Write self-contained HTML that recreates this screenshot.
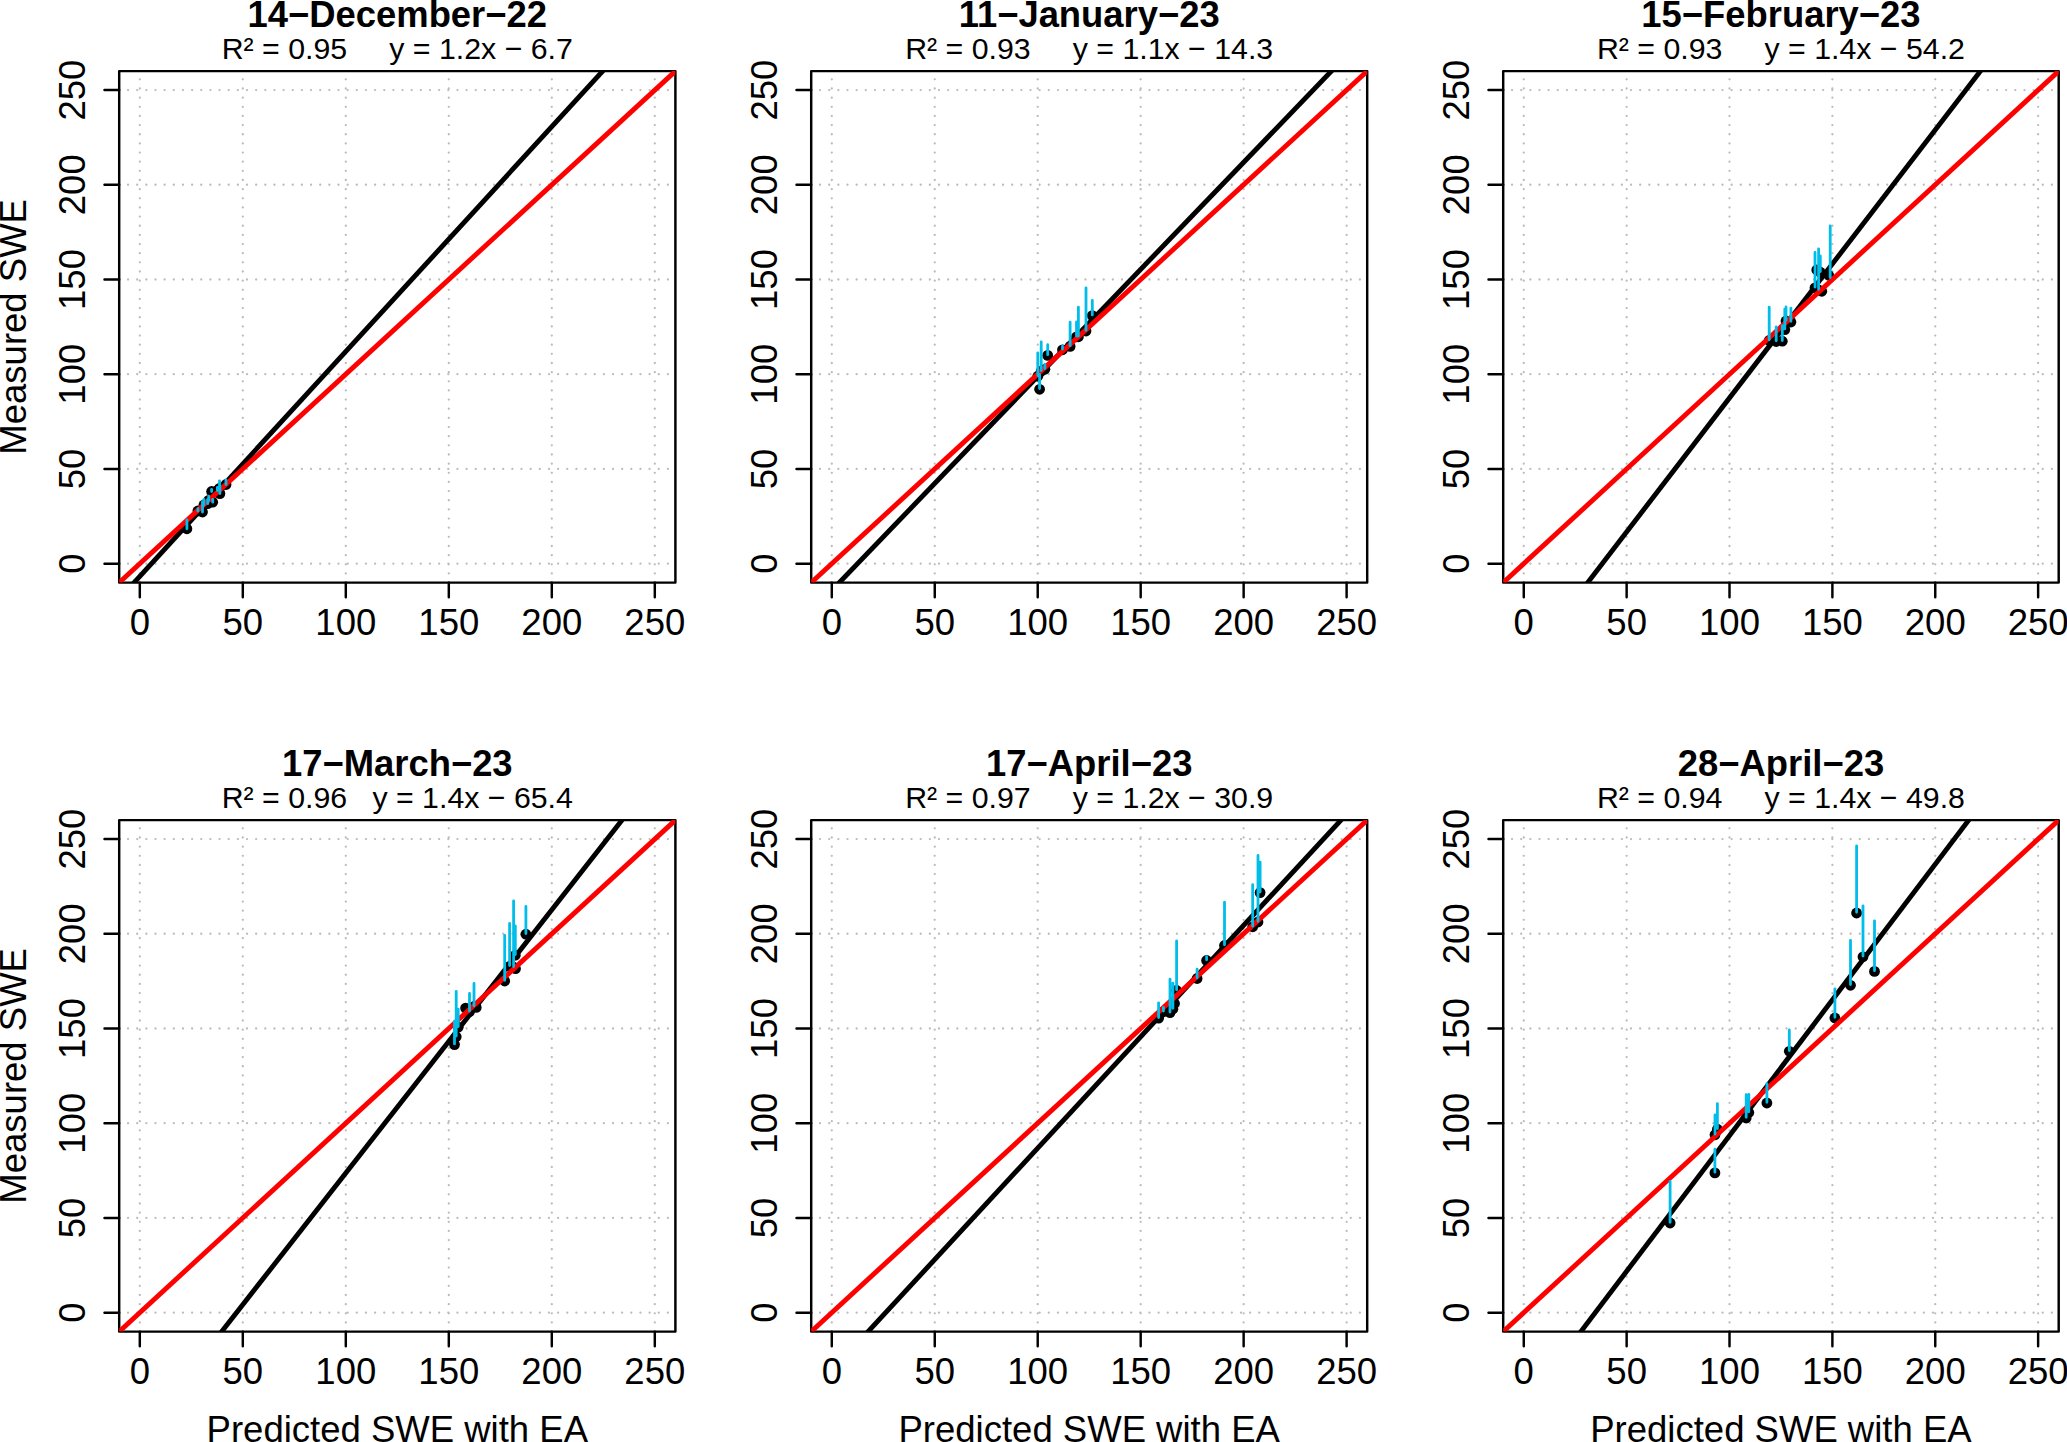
<!DOCTYPE html>
<html lang="en"><head><meta charset="utf-8"><title>Measured SWE vs Predicted SWE with EA</title>
<style>html,body{margin:0;padding:0;background:#fff}body{width:2067px;height:1442px;overflow:hidden}svg{display:block}text{font-family:"Liberation Sans",Arial,Helvetica,sans-serif;fill:#000}.ax{font-size:36.5px}.sub{font-size:30.3px}.main{font-size:36.4px;font-weight:bold}.k{stroke:#000;stroke-width:2.45;stroke-linecap:round;stroke-linejoin:round;fill:none}.g{stroke:#bcbcbc;stroke-width:2.3;stroke-linecap:round;stroke-dasharray:0 9.15;fill:none}.c{stroke:#00bdea;stroke-width:2.8;stroke-linecap:round;fill:none}</style></head><body>
<svg width="2067" height="1442" viewBox="0 0 2067 1442">
<rect width="2067" height="1442" fill="#fff"/>
<defs>
<clipPath id="cp0"><rect x="119.2" y="71.1" width="556.2" height="511.5"/></clipPath>
<clipPath id="cp1"><rect x="811.2" y="71.1" width="556" height="511.5"/></clipPath>
<clipPath id="cp2"><rect x="1503.2" y="71.1" width="555.5" height="511.5"/></clipPath>
<clipPath id="cp3"><rect x="119.2" y="820.1" width="556.2" height="511.5"/></clipPath>
<clipPath id="cp4"><rect x="811.2" y="820.1" width="556" height="511.5"/></clipPath>
<clipPath id="cp5"><rect x="1503.2" y="820.1" width="555.5" height="511.5"/></clipPath>
</defs>
<g id="panel1">
<text class="ax" text-anchor="middle" x="139.8" y="635">0</text>
<text class="ax" text-anchor="middle" x="242.8" y="635">50</text>
<text class="ax" text-anchor="middle" x="345.8" y="635">100</text>
<text class="ax" text-anchor="middle" x="448.8" y="635">150</text>
<text class="ax" text-anchor="middle" x="551.8" y="635">200</text>
<text class="ax" text-anchor="middle" x="654.8" y="635">250</text>
<text class="ax" text-anchor="middle" transform="translate(84.7 563.66) rotate(-90)">0</text>
<text class="ax" text-anchor="middle" transform="translate(84.7 468.93) rotate(-90)">50</text>
<text class="ax" text-anchor="middle" transform="translate(84.7 374.21) rotate(-90)">100</text>
<text class="ax" text-anchor="middle" transform="translate(84.7 279.49) rotate(-90)">150</text>
<text class="ax" text-anchor="middle" transform="translate(84.7 184.77) rotate(-90)">200</text>
<text class="ax" text-anchor="middle" transform="translate(84.7 90.04) rotate(-90)">250</text>
<path class="g" clip-path="url(#cp0)" d="M139.8 582.6V71.1M242.8 582.6V71.1M345.8 582.6V71.1M448.8 582.6V71.1M551.8 582.6V71.1M654.8 582.6V71.1M118.9 563.66H675.4M118.9 468.93H675.4M118.9 374.21H675.4M118.9 279.49H675.4M118.9 184.77H675.4M118.9 90.04H675.4"/>
<g fill="#000"><circle cx="186.9" cy="528.8" r="5.4"/><circle cx="197.9" cy="511" r="5.4"/><circle cx="202.5" cy="512" r="5.4"/><circle cx="203.9" cy="505" r="5.4"/><circle cx="207.7" cy="503.7" r="5.4"/><circle cx="208.7" cy="500.4" r="5.4"/><circle cx="212.7" cy="502.2" r="5.4"/><circle cx="211.6" cy="491.5" r="5.4"/><circle cx="217.4" cy="490.5" r="5.4"/><circle cx="219.9" cy="493.6" r="5.4"/><circle cx="219.5" cy="488.3" r="5.4"/><circle cx="226" cy="484.5" r="5.4"/></g>
<rect class="k" x="119.2" y="71.1" width="556.2" height="511.5"/>
<path class="k" d="M139.8 582.6v14.7M119.2 563.66h-14.7M242.8 582.6v14.7M119.2 468.93h-14.7M345.8 582.6v14.7M119.2 374.21h-14.7M448.8 582.6v14.7M119.2 279.49h-14.7M551.8 582.6v14.7M119.2 184.77h-14.7M654.8 582.6v14.7M119.2 90.04h-14.7"/>
<g clip-path="url(#cp0)" fill="none" stroke-width="4.9">
<line stroke="#000" x1="110.67" y1="608.18" x2="626.13" y2="45.52"/>
<line stroke="#f00" x1="99.2" y1="600.99" x2="695.4" y2="52.71"/>
</g>
<path class="c" d="M186.9 528.8V519.9M197.9 511V508.7M202.5 512V501.6M203.9 505V499.5M207.7 503.7V499.5M208.7 500.4V496.2M212.7 502.2V499.5M211.6 491.5V489.3M217.4 490.5V487.5M219.9 493.6V485M219.5 488.3V480.8M226 484.5V479.8"/>
<text class="main" text-anchor="middle" x="397.3" y="26.7">14−December−22</text>
<text class="sub" text-anchor="middle" xml:space="preserve" x="397.3" y="59.2">R² = 0.95     y = 1.2x − 6.7</text>
<text class="ax" text-anchor="middle" transform="translate(26.2 326.85) rotate(-90)">Measured SWE</text>
</g>
<g id="panel2">
<text class="ax" text-anchor="middle" x="831.79" y="635">0</text>
<text class="ax" text-anchor="middle" x="934.76" y="635">50</text>
<text class="ax" text-anchor="middle" x="1037.72" y="635">100</text>
<text class="ax" text-anchor="middle" x="1140.68" y="635">150</text>
<text class="ax" text-anchor="middle" x="1243.64" y="635">200</text>
<text class="ax" text-anchor="middle" x="1346.61" y="635">250</text>
<text class="ax" text-anchor="middle" transform="translate(776.7 563.66) rotate(-90)">0</text>
<text class="ax" text-anchor="middle" transform="translate(776.7 468.93) rotate(-90)">50</text>
<text class="ax" text-anchor="middle" transform="translate(776.7 374.21) rotate(-90)">100</text>
<text class="ax" text-anchor="middle" transform="translate(776.7 279.49) rotate(-90)">150</text>
<text class="ax" text-anchor="middle" transform="translate(776.7 184.77) rotate(-90)">200</text>
<text class="ax" text-anchor="middle" transform="translate(776.7 90.04) rotate(-90)">250</text>
<path class="g" clip-path="url(#cp1)" d="M831.79 582.6V71.1M934.76 582.6V71.1M1037.72 582.6V71.1M1140.68 582.6V71.1M1243.64 582.6V71.1M1346.61 582.6V71.1M810.9 563.66H1367.2M810.9 468.93H1367.2M810.9 374.21H1367.2M810.9 279.49H1367.2M810.9 184.77H1367.2M810.9 90.04H1367.2"/>
<g fill="#000"><circle cx="1039.6" cy="389.3" r="5.4"/><circle cx="1037.8" cy="376.2" r="5.4"/><circle cx="1041.2" cy="371.2" r="5.4"/><circle cx="1044.9" cy="369.3" r="5.4"/><circle cx="1047.7" cy="355.4" r="5.4"/><circle cx="1062.5" cy="349.8" r="5.4"/><circle cx="1070.1" cy="346.4" r="5.4"/><circle cx="1076.5" cy="336.8" r="5.4"/><circle cx="1078.4" cy="336.8" r="5.4"/><circle cx="1086" cy="331" r="5.4"/><circle cx="1092.3" cy="315.6" r="5.4"/></g>
<rect class="k" x="811.2" y="71.1" width="556" height="511.5"/>
<path class="k" d="M831.79 582.6v14.7M811.2 563.66h-14.7M934.76 582.6v14.7M811.2 468.93h-14.7M1037.72 582.6v14.7M811.2 374.21h-14.7M1140.68 582.6v14.7M811.2 279.49h-14.7M1243.64 582.6v14.7M811.2 184.77h-14.7M1346.61 582.6v14.7M811.2 90.04h-14.7"/>
<g clip-path="url(#cp1)" fill="none" stroke-width="4.9">
<line stroke="#000" x1="814.69" y1="608.18" x2="1356.01" y2="45.52"/>
<line stroke="#f00" x1="791.2" y1="601" x2="1387.2" y2="52.7"/>
</g>
<path class="c" d="M1039.6 388.6V374.4M1037.8 375.5V352.8M1041.2 370.5V341.9M1044.9 368.6V364.4M1047.7 354.7V344.7M1062.5 349.1V346M1070.1 345.7V322.2M1076.5 336.1V321.9M1078.4 336.1V307.2M1086 330.3V287.8M1092.3 314.9V300.3"/>
<text class="main" text-anchor="middle" x="1089.2" y="26.7">11−January−23</text>
<text class="sub" text-anchor="middle" xml:space="preserve" x="1089.2" y="59.2">R² = 0.93     y = 1.1x − 14.3</text>
</g>
<g id="panel3">
<text class="ax" text-anchor="middle" x="1523.77" y="635">0</text>
<text class="ax" text-anchor="middle" x="1626.64" y="635">50</text>
<text class="ax" text-anchor="middle" x="1729.51" y="635">100</text>
<text class="ax" text-anchor="middle" x="1832.39" y="635">150</text>
<text class="ax" text-anchor="middle" x="1935.26" y="635">200</text>
<text class="ax" text-anchor="middle" x="2038.13" y="635">250</text>
<text class="ax" text-anchor="middle" transform="translate(1468.7 563.66) rotate(-90)">0</text>
<text class="ax" text-anchor="middle" transform="translate(1468.7 468.93) rotate(-90)">50</text>
<text class="ax" text-anchor="middle" transform="translate(1468.7 374.21) rotate(-90)">100</text>
<text class="ax" text-anchor="middle" transform="translate(1468.7 279.49) rotate(-90)">150</text>
<text class="ax" text-anchor="middle" transform="translate(1468.7 184.77) rotate(-90)">200</text>
<text class="ax" text-anchor="middle" transform="translate(1468.7 90.04) rotate(-90)">250</text>
<path class="g" clip-path="url(#cp2)" d="M1523.77 582.6V71.1M1626.64 582.6V71.1M1729.51 582.6V71.1M1832.39 582.6V71.1M1935.26 582.6V71.1M2038.13 582.6V71.1M1502.9 563.66H2058.7M1502.9 468.93H2058.7M1502.9 374.21H2058.7M1502.9 279.49H2058.7M1502.9 184.77H2058.7M1502.9 90.04H2058.7"/>
<g fill="#000"><circle cx="1769.2" cy="340.5" r="5.4"/><circle cx="1776.2" cy="341.5" r="5.4"/><circle cx="1782.3" cy="341.2" r="5.4"/><circle cx="1784.8" cy="329.6" r="5.4"/><circle cx="1786" cy="321" r="5.4"/><circle cx="1790.9" cy="322" r="5.4"/><circle cx="1815" cy="287.8" r="5.4"/><circle cx="1818.6" cy="290" r="5.4"/><circle cx="1820.3" cy="272.2" r="5.4"/><circle cx="1816.8" cy="269.9" r="5.4"/><circle cx="1828.7" cy="275.3" r="5.4"/><circle cx="1821.8" cy="291.3" r="5.4"/></g>
<rect class="k" x="1503.2" y="71.1" width="555.5" height="511.5"/>
<path class="k" d="M1523.77 582.6v14.7M1503.2 563.66h-14.7M1626.64 582.6v14.7M1503.2 468.93h-14.7M1729.51 582.6v14.7M1503.2 374.21h-14.7M1832.39 582.6v14.7M1503.2 279.49h-14.7M1935.26 582.6v14.7M1503.2 184.77h-14.7M2038.13 582.6v14.7M1503.2 90.04h-14.7"/>
<g clip-path="url(#cp2)" fill="none" stroke-width="4.9">
<line stroke="#000" x1="1568.07" y1="608.18" x2="2000.04" y2="45.52"/>
<line stroke="#f00" x1="1483.2" y1="601.02" x2="2078.7" y2="52.68"/>
</g>
<path class="c" d="M1769.2 339.8V307.2M1776.2 340.8V326.9M1782.3 340.5V325.6M1784.8 328.9V309.1M1786 320.3V306.9M1790.9 321.3V308.1M1815 287.1V252.5M1818.6 289.3V248.8M1820.3 271.5V255.9M1830.2 277.5V226"/>
<text class="main" text-anchor="middle" x="1780.95" y="26.7">15−February−23</text>
<text class="sub" text-anchor="middle" xml:space="preserve" x="1780.95" y="59.2">R² = 0.93     y = 1.4x − 54.2</text>
</g>
<g id="panel4">
<text class="ax" text-anchor="middle" x="139.8" y="1384">0</text>
<text class="ax" text-anchor="middle" x="242.8" y="1384">50</text>
<text class="ax" text-anchor="middle" x="345.8" y="1384">100</text>
<text class="ax" text-anchor="middle" x="448.8" y="1384">150</text>
<text class="ax" text-anchor="middle" x="551.8" y="1384">200</text>
<text class="ax" text-anchor="middle" x="654.8" y="1384">250</text>
<text class="ax" text-anchor="middle" transform="translate(84.7 1312.66) rotate(-90)">0</text>
<text class="ax" text-anchor="middle" transform="translate(84.7 1217.93) rotate(-90)">50</text>
<text class="ax" text-anchor="middle" transform="translate(84.7 1123.21) rotate(-90)">100</text>
<text class="ax" text-anchor="middle" transform="translate(84.7 1028.49) rotate(-90)">150</text>
<text class="ax" text-anchor="middle" transform="translate(84.7 933.77) rotate(-90)">200</text>
<text class="ax" text-anchor="middle" transform="translate(84.7 839.04) rotate(-90)">250</text>
<path class="g" clip-path="url(#cp3)" d="M139.8 1331.6V820.1M242.8 1331.6V820.1M345.8 1331.6V820.1M448.8 1331.6V820.1M551.8 1331.6V820.1M654.8 1331.6V820.1M118.9 1312.66H675.4M118.9 1217.93H675.4M118.9 1123.21H675.4M118.9 1028.49H675.4M118.9 933.77H675.4M118.9 839.04H675.4"/>
<g fill="#000"><circle cx="454.5" cy="1044.6" r="5.4"/><circle cx="456.2" cy="1036.7" r="5.4"/><circle cx="458.2" cy="1027.2" r="5.4"/><circle cx="469.5" cy="1011.8" r="5.4"/><circle cx="474" cy="1006.5" r="5.4"/><circle cx="504.7" cy="981" r="5.4"/><circle cx="509.6" cy="966.3" r="5.4"/><circle cx="513.6" cy="967.2" r="5.4"/><circle cx="515.3" cy="955.2" r="5.4"/><circle cx="525.9" cy="934.2" r="5.4"/><circle cx="465.6" cy="1008.1" r="5.4"/><circle cx="476.2" cy="1007.4" r="5.4"/><circle cx="515.5" cy="968.7" r="5.4"/></g>
<rect class="k" x="119.2" y="820.1" width="556.2" height="511.5"/>
<path class="k" d="M139.8 1331.6v14.7M119.2 1312.66h-14.7M242.8 1331.6v14.7M119.2 1217.93h-14.7M345.8 1331.6v14.7M119.2 1123.21h-14.7M448.8 1331.6v14.7M119.2 1028.49h-14.7M551.8 1331.6v14.7M119.2 933.77h-14.7M654.8 1331.6v14.7M119.2 839.04h-14.7"/>
<g clip-path="url(#cp3)" fill="none" stroke-width="4.9">
<line stroke="#000" x1="201.69" y1="1357.17" x2="642.01" y2="794.52"/>
<line stroke="#f00" x1="99.2" y1="1349.99" x2="695.4" y2="801.71"/>
</g>
<path class="c" d="M454.5 1043.9V1021.2M456.2 1036V991.3M458.2 1026.5V1009.1M469.5 1011.1V993.4M474 1005.8V983.5M504.7 980.3V935.3M509.6 965.6V923.4M513.6 966.5V901M515.3 954.5V925.9M525.9 933.5V906.3"/>
<text class="main" text-anchor="middle" x="397.3" y="775.7">17−March−23</text>
<text class="sub" text-anchor="middle" xml:space="preserve" x="397.3" y="808.2">R² = 0.96   y = 1.4x − 65.4</text>
<text class="ax" text-anchor="middle" transform="translate(26.2 1075.85) rotate(-90)">Measured SWE</text>
<text class="ax" text-anchor="middle" x="397.3" y="1442.4">Predicted SWE with EA</text>
</g>
<g id="panel5">
<text class="ax" text-anchor="middle" x="831.79" y="1384">0</text>
<text class="ax" text-anchor="middle" x="934.76" y="1384">50</text>
<text class="ax" text-anchor="middle" x="1037.72" y="1384">100</text>
<text class="ax" text-anchor="middle" x="1140.68" y="1384">150</text>
<text class="ax" text-anchor="middle" x="1243.64" y="1384">200</text>
<text class="ax" text-anchor="middle" x="1346.61" y="1384">250</text>
<text class="ax" text-anchor="middle" transform="translate(776.7 1312.66) rotate(-90)">0</text>
<text class="ax" text-anchor="middle" transform="translate(776.7 1217.93) rotate(-90)">50</text>
<text class="ax" text-anchor="middle" transform="translate(776.7 1123.21) rotate(-90)">100</text>
<text class="ax" text-anchor="middle" transform="translate(776.7 1028.49) rotate(-90)">150</text>
<text class="ax" text-anchor="middle" transform="translate(776.7 933.77) rotate(-90)">200</text>
<text class="ax" text-anchor="middle" transform="translate(776.7 839.04) rotate(-90)">250</text>
<path class="g" clip-path="url(#cp4)" d="M831.79 1331.6V820.1M934.76 1331.6V820.1M1037.72 1331.6V820.1M1140.68 1331.6V820.1M1243.64 1331.6V820.1M1346.61 1331.6V820.1M810.9 1312.66H1367.2M810.9 1217.93H1367.2M810.9 1123.21H1367.2M810.9 1028.49H1367.2M810.9 933.77H1367.2M810.9 839.04H1367.2"/>
<g fill="#000"><circle cx="1158.6" cy="1018.2" r="5.4"/><circle cx="1163.4" cy="1011.8" r="5.4"/><circle cx="1170" cy="1012.7" r="5.4"/><circle cx="1172.9" cy="1009" r="5.4"/><circle cx="1176.6" cy="990.5" r="5.4"/><circle cx="1197.1" cy="978.5" r="5.4"/><circle cx="1206.6" cy="960.5" r="5.4"/><circle cx="1224.5" cy="945.5" r="5.4"/><circle cx="1252.7" cy="926.8" r="5.4"/><circle cx="1258" cy="922" r="5.4"/><circle cx="1260.1" cy="892.6" r="5.4"/><circle cx="1174.5" cy="1003.5" r="5.4"/></g>
<rect class="k" x="811.2" y="820.1" width="556" height="511.5"/>
<path class="k" d="M831.79 1331.6v14.7M811.2 1312.66h-14.7M934.76 1331.6v14.7M811.2 1217.93h-14.7M1037.72 1331.6v14.7M811.2 1123.21h-14.7M1140.68 1331.6v14.7M811.2 1028.49h-14.7M1243.64 1331.6v14.7M811.2 933.77h-14.7M1346.61 1331.6v14.7M811.2 839.04h-14.7"/>
<g clip-path="url(#cp4)" fill="none" stroke-width="4.9">
<line stroke="#000" x1="844.46" y1="1357.17" x2="1364.64" y2="794.52"/>
<line stroke="#f00" x1="791.2" y1="1350" x2="1387.2" y2="801.7"/>
</g>
<path class="c" d="M1158.6 1017.5V1002.8M1163.4 1011.1V1007.5M1170 1012V979.1M1172.9 1008.3V983.1M1176.6 989.8V941M1197.1 977.8V969.1M1206.6 959.8V956.6M1224.5 944.8V902.2M1252.7 926.1V884.7M1258 921.3V855.4M1260.1 891.9V862.2"/>
<text class="main" text-anchor="middle" x="1089.2" y="775.7">17−April−23</text>
<text class="sub" text-anchor="middle" xml:space="preserve" x="1089.2" y="808.2">R² = 0.97     y = 1.2x − 30.9</text>
<text class="ax" text-anchor="middle" x="1089.2" y="1442.4">Predicted SWE with EA</text>
</g>
<g id="panel6">
<text class="ax" text-anchor="middle" x="1523.77" y="1384">0</text>
<text class="ax" text-anchor="middle" x="1626.64" y="1384">50</text>
<text class="ax" text-anchor="middle" x="1729.51" y="1384">100</text>
<text class="ax" text-anchor="middle" x="1832.39" y="1384">150</text>
<text class="ax" text-anchor="middle" x="1935.26" y="1384">200</text>
<text class="ax" text-anchor="middle" x="2038.13" y="1384">250</text>
<text class="ax" text-anchor="middle" transform="translate(1468.7 1312.66) rotate(-90)">0</text>
<text class="ax" text-anchor="middle" transform="translate(1468.7 1217.93) rotate(-90)">50</text>
<text class="ax" text-anchor="middle" transform="translate(1468.7 1123.21) rotate(-90)">100</text>
<text class="ax" text-anchor="middle" transform="translate(1468.7 1028.49) rotate(-90)">150</text>
<text class="ax" text-anchor="middle" transform="translate(1468.7 933.77) rotate(-90)">200</text>
<text class="ax" text-anchor="middle" transform="translate(1468.7 839.04) rotate(-90)">250</text>
<path class="g" clip-path="url(#cp5)" d="M1523.77 1331.6V820.1M1626.64 1331.6V820.1M1729.51 1331.6V820.1M1832.39 1331.6V820.1M1935.26 1331.6V820.1M2038.13 1331.6V820.1M1502.9 1312.66H2058.7M1502.9 1217.93H2058.7M1502.9 1123.21H2058.7M1502.9 1028.49H2058.7M1502.9 933.77H2058.7M1502.9 839.04H2058.7"/>
<g fill="#000"><circle cx="1670.1" cy="1223" r="5.4"/><circle cx="1714.9" cy="1172.9" r="5.4"/><circle cx="1715" cy="1134.8" r="5.4"/><circle cx="1717.4" cy="1129.2" r="5.4"/><circle cx="1746.2" cy="1118" r="5.4"/><circle cx="1748.8" cy="1112.5" r="5.4"/><circle cx="1766.9" cy="1103" r="5.4"/><circle cx="1789.3" cy="1051.3" r="5.4"/><circle cx="1834.9" cy="1018" r="5.4"/><circle cx="1850.5" cy="985.3" r="5.4"/><circle cx="1856.6" cy="913" r="5.4"/><circle cx="1863" cy="956.8" r="5.4"/><circle cx="1874.5" cy="971.4" r="5.4"/></g>
<rect class="k" x="1503.2" y="820.1" width="555.5" height="511.5"/>
<path class="k" d="M1523.77 1331.6v14.7M1503.2 1312.66h-14.7M1626.64 1331.6v14.7M1503.2 1217.93h-14.7M1729.51 1331.6v14.7M1503.2 1123.21h-14.7M1832.39 1331.6v14.7M1503.2 1028.49h-14.7M1935.26 1331.6v14.7M1503.2 933.77h-14.7M2038.13 1331.6v14.7M1503.2 839.04h-14.7"/>
<g clip-path="url(#cp5)" fill="none" stroke-width="4.9">
<line stroke="#000" x1="1561.51" y1="1357.17" x2="1988.09" y2="794.52"/>
<line stroke="#f00" x1="1483.2" y1="1350.02" x2="2078.7" y2="801.68"/>
</g>
<path class="c" d="M1670.1 1222.3V1181.3M1714.9 1172.2V1149.2M1715 1134.1V1114.9M1717.4 1128.5V1103.7M1746.2 1117.3V1094.7M1748.8 1111.8V1094.3M1766.9 1102.3V1083.7M1789.3 1050.6V1030M1834.9 1017.3V988.8M1850.5 984.6V940.3M1856.6 912.3V845.8M1863 956.1V905.8M1874.5 970.7V920.8"/>
<text class="main" text-anchor="middle" x="1780.95" y="775.7">28−April−23</text>
<text class="sub" text-anchor="middle" xml:space="preserve" x="1780.95" y="808.2">R² = 0.94     y = 1.4x − 49.8</text>
<text class="ax" text-anchor="middle" x="1780.95" y="1442.4">Predicted SWE with EA</text>
</g>
</svg></body></html>
